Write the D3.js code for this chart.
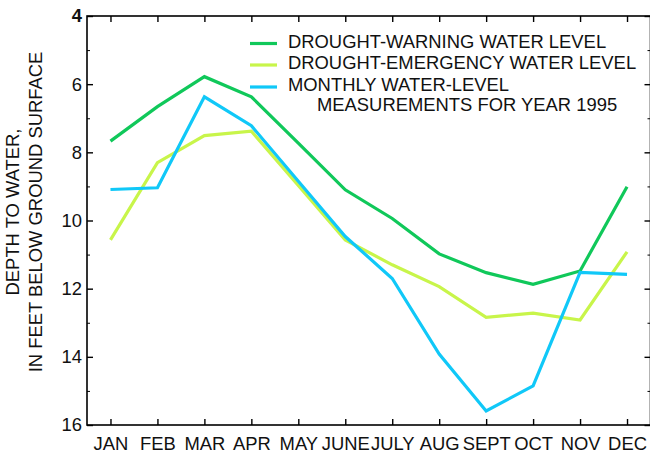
<!DOCTYPE html>
<html>
<head>
<meta charset="utf-8">
<script src="https://cdn.jsdelivr.net/npm/d3@7"></script>
<style>
  body { margin: 0; background: #fff; }
  text { font-family: "Liberation Sans", Arial, sans-serif; fill: #111; }
</style>
</head>
<body>
<svg id="chart" width="650" height="453"></svg>
<script>
// data (depth to water, feet)
var months = ["JAN", "FEB", "MAR", "APR", "MAY", "JUNE", "JULY", "AUG", "SEPT", "OCT", "NOV", "DEC"];
var warning = [7.67, 6.66, 5.78, 6.37, 7.73, 9.1, 9.94, 10.98, 11.53, 11.87, 11.48, 9.01];
var emergency = [10.57, 8.3, 7.51, 7.38, 8.97, 10.57, 11.3, 11.94, 12.84, 12.72, 12.92, 10.92];
var measured = [9.09, 9.04, 6.37, 7.22, 8.85, 10.47, 11.7, 13.92, 15.59, 14.85, 11.52, 11.58];
var yTicks = [4, 6, 8, 10, 12, 14, 16];
var yMinor = [5, 7, 9, 11, 13, 15];

var legendLabels = ["DROUGHT-WARNING WATER LEVEL", "DROUGHT-EMERGENCY WATER LEVEL", "MONTHLY WATER-LEVEL"];
var colors = ["#10c85a", "#c8f54a", "#10c8f8"];

var svg = d3.select("#chart");
var pLeft = 87, pRight = 650.5, pTop = 16, pBottom = 425;
var fs = "18.4px";

var x = d3.scaleLinear().domain([-0.5, 11.5]).range([pLeft, pRight]);
var y = d3.scaleLinear().domain([4, 16]).range([pTop, pBottom]);

// frame
svg.append("rect")
  .attr("x", pLeft).attr("y", pTop)
  .attr("width", pRight - pLeft).attr("height", pBottom - pTop)
  .style("fill", "none").style("stroke", "#000").style("stroke-width", 1.6);

// left axis, ticks pointing in
var gl = svg.append("g").attr("transform", "translate(" + pLeft + ",0)")
  .call(d3.axisLeft(y).tickValues(yTicks).tickSize(-6).tickPadding(5));
gl.select(".domain").remove();
gl.selectAll("line").style("stroke-width", 1.4);
gl.selectAll("text").style("font-size", fs).style("font-family", "Liberation Sans, Arial, sans-serif");
gl.selectAll("text").filter(function(d) { return d == 4; }).style("font-weight", "bold");

var glm = svg.append("g").attr("transform", "translate(" + pLeft + ",0)")
  .call(d3.axisLeft(y).tickValues(yMinor).tickSize(-3).tickFormat(""));
glm.select(".domain").remove();

// right axis
var gr = svg.append("g").attr("transform", "translate(" + pRight + ",0)")
  .call(d3.axisRight(y).tickValues(yTicks).tickSize(-6).tickFormat(""));
gr.select(".domain").remove();
gr.selectAll("line").style("stroke-width", 1.4);
var grm = svg.append("g").attr("transform", "translate(" + pRight + ",0)")
  .call(d3.axisRight(y).tickValues(yMinor).tickSize(-3).tickFormat(""));
grm.select(".domain").remove();

// bottom axis
var gb = svg.append("g").attr("transform", "translate(0," + pBottom + ")")
  .call(d3.axisBottom(x).tickValues(d3.range(12)).tickSize(-6).tickPadding(12)
    .tickFormat(function(d) { return months[d]; }));
gb.select(".domain").remove();
gb.selectAll("line").style("stroke-width", 1.4);
gb.selectAll("text").style("font-size", fs).style("font-family", "Liberation Sans, Arial, sans-serif");

// top axis
var gt = svg.append("g").attr("transform", "translate(0," + pTop + ")")
  .call(d3.axisTop(x).tickValues(d3.range(12)).tickSize(-6).tickFormat(""));
gt.select(".domain").remove();
gt.selectAll("line").style("stroke-width", 1.4);

// y label
var yl = svg.append("text")
  .attr("transform", "translate(0,212) rotate(-90)")
  .attr("text-anchor", "middle")
  .style("font-size", fs);
yl.append("tspan").attr("x", 0).attr("y", 19).text("DEPTH TO WATER,");
yl.append("tspan").attr("x", 0).attr("y", 42).text("IN FEET BELOW GROUND SURFACE");

// lines
var line = d3.line()
  .x(function(d, i) { return x(i); })
  .y(function(d) { return y(d); });

[warning, emergency, measured].forEach(function(s, k) {
  svg.append("path")
    .datum(s)
    .attr("d", line)
    .style("fill", "none")
    .style("stroke", colors[k])
    .style("stroke-width", 3.2)
    .style("stroke-linejoin", "miter");
});

// legend
var legY = [43.5, 65, 87];
legendLabels.forEach(function(t, i) {
  svg.append("line")
    .attr("x1", 250).attr("x2", 277)
    .attr("y1", legY[i]).attr("y2", legY[i])
    .style("stroke", colors[i]).style("stroke-width", 3.2);
  svg.append("text")
    .attr("x", 288).attr("y", legY[i] + 4)
    .style("font-size", fs)
    .text(t);
});
svg.append("text")
  .attr("x", 317).attr("y", 110.5)
  .style("font-size", fs)
  .text("MEASUREMENTS FOR YEAR 1995");
</script>
</body>
</html>
